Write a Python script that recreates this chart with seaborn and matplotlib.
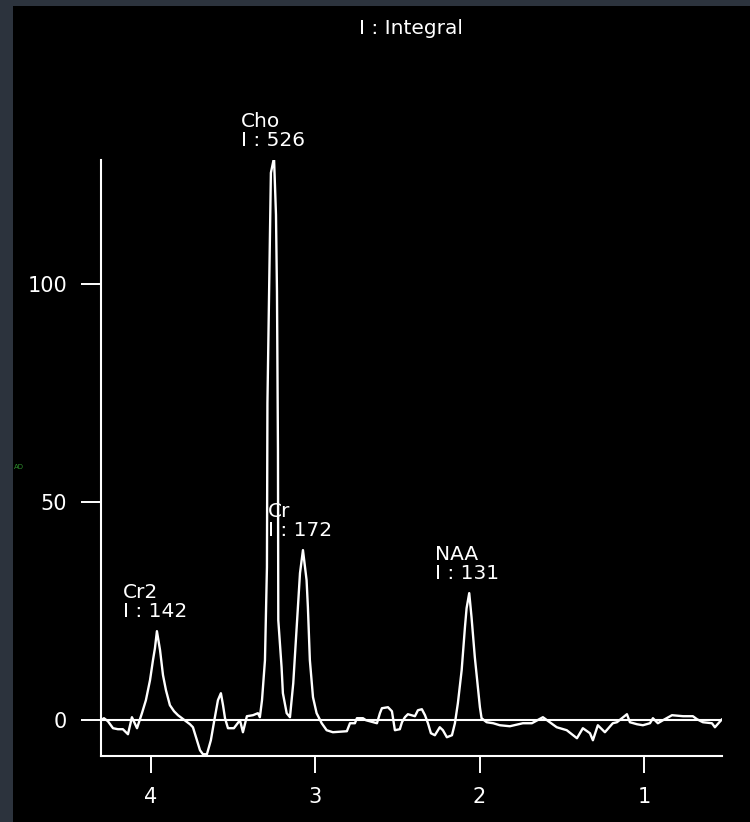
import matplotlib
matplotlib.use('Agg')
import matplotlib.pyplot as plt
import numpy as np
import pandas as pd
import seaborn as sns
from matplotlib.patches import Rectangle

# chemical shift (ppm) and signal
ppm = [4.302, 4.284, 4.260, 4.229, 4.199, 4.169, 4.138, 4.114, 4.083, 4.053,
       4.029, 4.004, 3.986, 3.974, 3.962, 3.943, 3.925, 3.907, 3.883, 3.858,
       3.834, 3.810, 3.785, 3.761, 3.743, 3.719, 3.700, 3.682, 3.658, 3.634,
       3.615, 3.591, 3.573, 3.560, 3.548, 3.530, 3.494, 3.457, 3.439, 3.415,
       3.378, 3.348, 3.336, 3.323, 3.305, 3.293, 3.290, 3.281, 3.269, 3.250,
       3.238, 3.232, 3.226, 3.224, 3.204, 3.196, 3.173, 3.153, 3.133, 3.112,
       3.092, 3.074, 3.052, 3.044, 3.032, 3.013, 2.991, 2.960, 2.930, 2.892,
       2.807, 2.788, 2.758, 2.746, 2.709, 2.691, 2.624, 2.606, 2.594, 2.557,
       2.533, 2.515, 2.485, 2.472, 2.454, 2.436, 2.393, 2.375, 2.351, 2.332,
       2.314, 2.296, 2.272, 2.242, 2.223, 2.199, 2.168, 2.150, 2.132, 2.109,
       2.089, 2.079, 2.063, 2.049, 2.029, 2.015, 1.998, 1.988, 1.957, 1.917,
       1.877, 1.816, 1.737, 1.682, 1.615, 1.573, 1.531, 1.470, 1.408, 1.372,
       1.329, 1.311, 1.281, 1.238, 1.190, 1.165, 1.104, 1.086, 1.043, 1.007,
       0.964, 0.946, 0.916, 0.885, 0.830, 0.763, 0.703, 0.678, 0.642, 0.587,
       0.569, 0.526]
signal = [0.00, 0.46, -0.23, -1.83, -2.06, -2.06, -3.21, 0.69, -1.83, 1.61,
          4.59, 9.17, 13.76, 16.51, 20.41, 16.06, 10.32, 6.88, 3.44, 2.06,
          1.15, 0.46, -0.23, -0.92, -1.61, -4.59, -6.88, -7.80, -7.80, -4.59,
          -0.46, 4.59, 6.19, 3.44, 0.46, -1.83, -1.83, 0.00, -2.75, 0.92,
          1.15, 1.61, 0.69, 4.59, 13.76, 35.09, 72.71, 94.72, 125.46, 128.90,
          115.83, 98.17, 61.90, 22.94, 12.16, 6.19, 1.61, 0.69, 8.49, 21.33,
          33.72, 38.99, 32.11, 25.92, 13.76, 5.28, 1.61, -0.69, -2.29, -2.75,
          -2.52, -0.69, -0.69, 0.46, 0.46, 0.00, -0.69, 1.61, 2.75, 2.98,
          2.06, -2.29, -2.06, -0.46, 0.69, 1.38, 0.92, 2.29, 2.52, 1.15,
          -0.69, -2.98, -3.44, -1.61, -2.29, -3.90, -3.44, -0.69, 3.90, 11.47,
          21.33, 25.69, 29.13, 23.62, 14.45, 9.17, 2.98, 0.46, -0.46, -0.69,
          -1.15, -1.38, -0.69, -0.69, 0.69, -0.46, -1.61, -2.29, -4.13, -1.83,
          -2.98, -4.59, -1.15, -2.75, -0.69, -0.46, 1.38, -0.46, -0.92, -1.15,
          -0.69, 0.46, -0.69, 0.00, 1.15, 0.92, 0.92, 0.23, -0.46, -0.69,
          -1.61, 0.23]

# peak labels: name, integral, label anchor (ppm, signal)
peak_names = ['Cr2', 'Cho', 'Cr', 'NAA']
peak_integrals = [142, 526, 172, 131]
label_ppm = [4.168, 3.451, 3.287, 2.272]
label_signal = [22.8, 130.8, 41.4, 31.5]

x_ticks = [4, 3, 2, 1]
y_ticks = [0, 50, 100]

df = pd.DataFrame({'ppm': ppm, 'signal': signal})

sns.set_style('dark')
plt.rcParams['font.family'] = ['DejaVu Sans']

fig = plt.figure(figsize=(7.5, 8.22), dpi=100, facecolor='#2c333d')
# black panel behind the plot
fig.patches.append(Rectangle((13 / 750, 0), 1, 1 - 6 / 822,
                             transform=fig.transFigure, facecolor='black',
                             edgecolor='none', zorder=-5))
ax = fig.add_axes([101 / 750, 1 - 756 / 822, 621 / 750, 596 / 822])
ax.set_facecolor('black')
ax.set_zorder(1)

ax.axhline(0, color='white', lw=1.5, zorder=1)
sns.lineplot(data=df, x='ppm', y='signal', color='white', lw=1.7,
             estimator=None, sort=False, ax=ax, zorder=2)

for name, integ, px, py in zip(peak_names, peak_integrals, label_ppm, label_signal):
    ax.text(px, py, f'{name}\nI : {integ}', color='white', fontsize=14.5,
            ha='left', va='bottom', linespacing=1.0, clip_on=False)

ax.set_xlim(4.302, 0.526)
ax.set_ylim(-8.2, 128.4)
ax.set_xticks(x_ticks)
ax.set_yticks(y_ticks)
ax.set_xlabel('')
ax.set_ylabel('')
ax.grid(False)
ax.tick_params(axis='x', colors='white', length=12, width=1.4,
               direction='out', pad=10, labelsize=15)
ax.tick_params(axis='y', colors='white', length=14.5, width=1.4,
               direction='out', pad=10, labelsize=15)
ax.tick_params(bottom=True, left=True)
for s in ['left', 'bottom']:
    ax.spines[s].set_visible(True)
    ax.spines[s].set_color('white')
    ax.spines[s].set_linewidth(1.5)
for s in ['top', 'right']:
    ax.spines[s].set_visible(False)

fig.text(411 / 750, 1 - 29 / 822, 'I : Integral', color='white', fontsize=14.5,
         ha='center', va='center', zorder=3)
fig.text(14 / 750, 1 - 467 / 822, 'AD', color='#2f8f2f', fontsize=5,
         ha='left', va='center', zorder=3)

plt.savefig('out.png', dpi=100, facecolor=fig.get_facecolor())
plt.close()
